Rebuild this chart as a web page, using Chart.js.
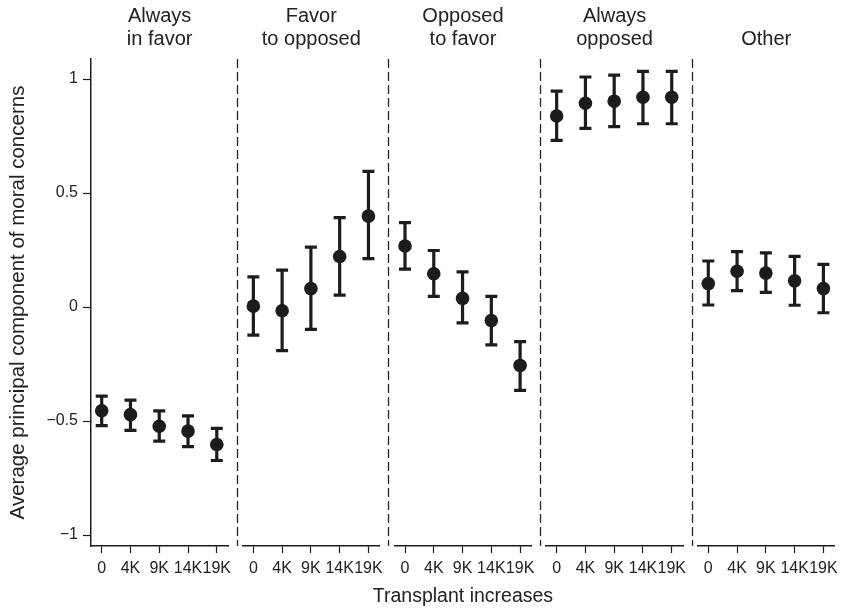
<!DOCTYPE html>
<html>
<head>
<meta charset="utf-8">
<script src="https://cdn.jsdelivr.net/npm/chart.js@4/dist/chart.umd.min.js"></script>
<style>
  html, body { margin: 0; padding: 0; background: #ffffff; overflow: hidden; width: 842px; height: 611px; }
  #wrap { position: relative; width: 842px; height: 611px; overflow: hidden; }
  #wrap canvas { position: absolute; top: 0; }
</style>
</head>
<body>
<div id="wrap"></div>
<script>
// ---------------- data ----------------
const xLabels = ['0', '4K', '9K', '14K', '19K'];
const xPositions = [0, 1, 2, 3, 4];
const yTicks = [-1, -0.5, 0, 0.5, 1];

const panelTitles = [
  ['Always', 'in favor'],
  ['Favor', 'to opposed'],
  ['Opposed', 'to favor'],
  ['Always', 'opposed'],
  ['', 'Other']
];
const yAxisTitle = 'Average principal component of moral concerns';
const xAxisTitle = 'Transplant increases';

const alwaysFavorMean = [-0.455, -0.472, -0.523, -0.544, -0.603];
const alwaysFavorLow  = [-0.520, -0.541, -0.588, -0.612, -0.673];
const alwaysFavorHigh = [-0.391, -0.408, -0.455, -0.477, -0.532];

const favorToOpposedMean = [0.004, -0.016, 0.081, 0.222, 0.399];
const favorToOpposedLow  = [-0.123, -0.191, -0.098, 0.052, 0.212];
const favorToOpposedHigh = [0.132, 0.162, 0.263, 0.392, 0.595];

const opposedToFavorMean = [0.268, 0.146, 0.038, -0.059, -0.256];
const opposedToFavorLow  = [0.166, 0.047, -0.069, -0.166, -0.365];
const opposedToFavorHigh = [0.370, 0.248, 0.154, 0.047, -0.152];

const alwaysOpposedMean = [0.838, 0.894, 0.903, 0.920, 0.920];
const alwaysOpposedLow  = [0.731, 0.784, 0.791, 0.804, 0.804];
const alwaysOpposedHigh = [0.947, 1.009, 1.017, 1.034, 1.034];

const otherMean = [0.103, 0.157, 0.149, 0.115, 0.081];
const otherLow  = [0.009, 0.072, 0.064, 0.008, -0.025];
const otherHigh = [0.202, 0.243, 0.238, 0.222, 0.187];

const panelMeans = [alwaysFavorMean, favorToOpposedMean, opposedToFavorMean, alwaysOpposedMean, otherMean];
const panelLows  = [alwaysFavorLow, favorToOpposedLow, opposedToFavorLow, alwaysOpposedLow, otherLow];
const panelHighs = [alwaysFavorHigh, favorToOpposedHigh, opposedToFavorHigh, alwaysOpposedHigh, otherHigh];

// ---------------- styling / layout ----------------
const FONT = '"Liberation Sans", Arial, Helvetica, sans-serif';
const INK = '#1c1c1c';
const TEXT = '#222222';
const Y_MIN = -1.048, Y_MAX = 1.088;
const X_MIN = -0.372, X_MAX = 4.40;
const CANVAS_H = 611;
const X_AXIS_H = 65;
const Y_AXIS_W = 91;
const PANEL_LEFT0 = 91, PANEL_STEP = 151.65, PANEL_W = 137.3;
const CAPTION_PANEL = 2;

Chart.defaults.font.family = FONT;
Chart.defaults.color = TEXT;

const errorBarPlugin = {
  id: 'errorBars',
  beforeDatasetsDraw(chart) {
    const { ctx, scales: { x, y } } = chart;
    const ds = chart.data.datasets[0];
    ctx.save();
    ctx.strokeStyle = INK;
    ctx.lineWidth = 3.2;
    ctx.lineCap = 'butt';
    ds.data.forEach((pt, i) => {
      const px = x.getPixelForValue(pt.x);
      const pl = y.getPixelForValue(ds.errLow[i]);
      const ph = y.getPixelForValue(ds.errHigh[i]);
      ctx.beginPath();
      ctx.moveTo(px, pl); ctx.lineTo(px, ph);
      ctx.moveTo(px - 6, pl); ctx.lineTo(px + 6, pl);
      ctx.moveTo(px - 6, ph); ctx.lineTo(px + 6, ph);
      ctx.stroke();
    });
    ctx.restore();
  }
};

const separatorPlugin = {
  id: 'separator',
  afterDraw(chart, args, opts) {
    if (!opts.show) return;
    const { ctx, chartArea } = chart;
    const x = Math.round(chartArea.left - 6) + 0.5;
    ctx.save();
    ctx.strokeStyle = '#222222';
    ctx.lineWidth = 1.3;
    ctx.setLineDash([9, 4]);
    ctx.beginPath();
    ctx.moveTo(x, chartArea.top);
    ctx.lineTo(x, chartArea.bottom);
    ctx.stroke();
    ctx.restore();
  }
};

// shared x-axis caption, drawn once below the middle panel (no width squeezing)
const captionPlugin = {
  id: 'caption',
  afterDraw(chart, args, opts) {
    if (!opts.text) return;
    const { ctx, chartArea } = chart;
    ctx.save();
    ctx.font = '19.5px ' + FONT;
    ctx.fillStyle = TEXT;
    ctx.textAlign = 'center';
    ctx.textBaseline = 'middle';
    ctx.fillText(opts.text, (chartArea.left + chartArea.right) / 2, chart.height - 14);
    ctx.restore();
  }
};

const wrap = document.getElementById('wrap');

panelMeans.forEach((means, k) => {
  const L = PANEL_LEFT0 + PANEL_STEP * k;
  const R = L + PANEL_W;
  const first = k === 0;
  const margin = k === CAPTION_PANEL ? 45 : 12;
  const cl = first ? 0 : Math.floor(L - margin);
  const cr = Math.ceil(R + Math.max(margin, 16));
  const cw = cr - cl;
  const canvas = document.createElement('canvas');
  canvas.width = cw; canvas.height = CANVAS_H;
  canvas.style.width = cw + 'px'; canvas.style.height = CANVAS_H + 'px';
  canvas.style.left = cl + 'px';
  wrap.appendChild(canvas);

  const points = xPositions.map((xv, i) => ({ x: xv, y: means[i] }));

  new Chart(canvas, {
    type: 'scatter',
    data: {
      datasets: [{
        data: points,
        errLow: panelLows[k],
        errHigh: panelHighs[k],
        pointRadius: 6.8,
        pointHoverRadius: 6.8,
        pointBackgroundColor: INK,
        pointBorderWidth: 0,
        showLine: false
      }]
    },
    options: {
      responsive: false,
      animation: false,
      devicePixelRatio: 1,
      layout: { padding: { left: first ? 0 : (L - cl), right: cw - (R - cl), top: 0, bottom: 0 } },
      plugins: {
        legend: { display: false },
        tooltip: { enabled: false },
        title: {
          display: true,
          fullSize: false,
          text: panelTitles[k],
          color: TEXT,
          font: { family: FONT, size: 20, weight: 'normal', lineHeight: 1.135 },
          padding: { top: 5.6, bottom: 8 }
        },
        separator: { show: !first },
        caption: { text: k === CAPTION_PANEL ? xAxisTitle : '' }
      },
      scales: {
        x: {
          type: 'linear',
          min: X_MIN,
          max: X_MAX,
          afterBuildTicks: (s) => { s.ticks = xPositions.map(v => ({ value: v })); },
          afterFit: (s) => { s.height = X_AXIS_H; },
          ticks: {
            callback: (v, i) => xLabels[i],
            autoSkip: false,
            maxRotation: 0,
            padding: 6,
            color: TEXT,
            font: { family: FONT, size: 16 }
          },
          grid: { display: true, drawOnChartArea: false, drawTicks: true, tickLength: 7, tickColor: INK, tickWidth: 1.2 },
          border: { display: true, color: INK, width: 1.5 },
          title: { display: false }
        },
        y: {
          type: 'linear',
          display: first,
          min: Y_MIN,
          max: Y_MAX,
          afterBuildTicks: (s) => { s.ticks = yTicks.map(v => ({ value: v })); },
          afterFit: (s) => { if (first) s.width = Y_AXIS_W; },
          ticks: {
            callback: (v) => (v < 0 ? '\u2212' + String(Math.abs(v)) : String(v)),
            padding: 5,
            color: TEXT,
            font: { family: FONT, size: 16 }
          },
          grid: { display: true, drawOnChartArea: false, drawTicks: true, tickLength: 8, tickColor: INK, tickWidth: 1.2 },
          border: { display: true, color: INK, width: 1.5 },
          title: {
            display: true,
            text: yAxisTitle,
            color: TEXT,
            font: { family: FONT, size: 20.5 },
            padding: { top: 6, bottom: 0 }
          }
        }
      }
    },
    plugins: [errorBarPlugin, separatorPlugin, captionPlugin]
  });
});
</script>
</body>
</html>
